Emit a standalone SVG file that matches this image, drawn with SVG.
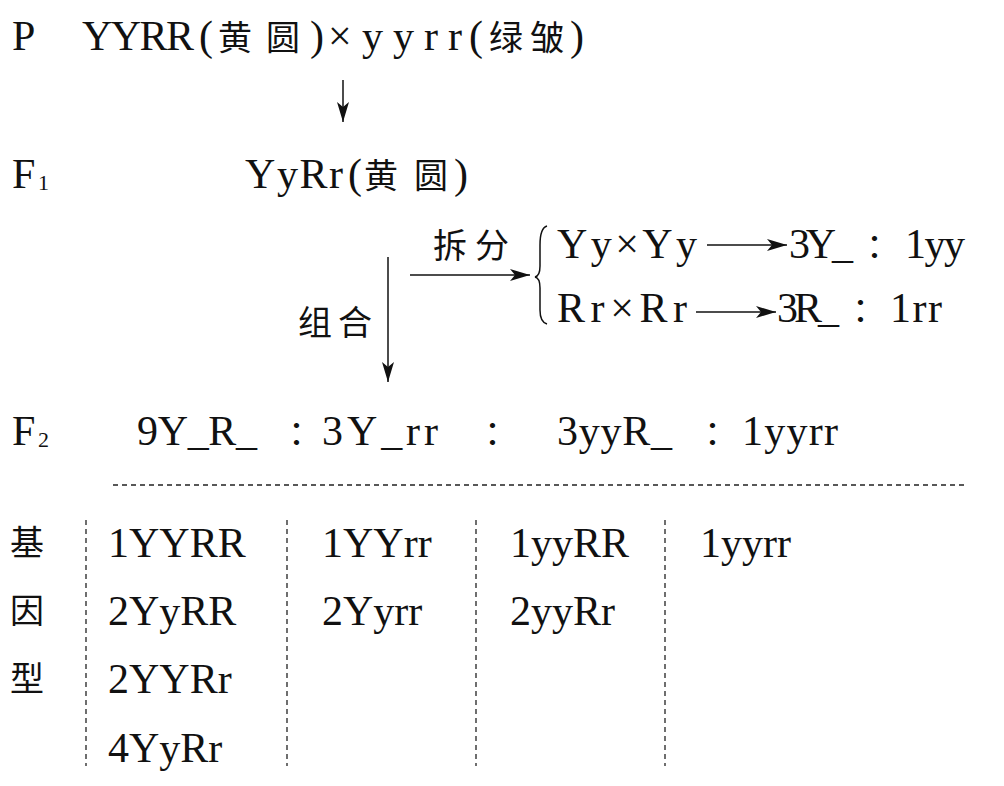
<svg xmlns="http://www.w3.org/2000/svg" width="1004" height="786" viewBox="0 0 1004 786">
<style>
.t{font-size:42px;fill:#111}
.c{font-size:34px;fill:#111}
.s{font-size:22px;fill:#111}
.ln{stroke:#111;stroke-width:1.5;fill:none}
.d{stroke:#222;stroke-width:1.3;stroke-dasharray:5 4;fill:none}
</style>
<defs>
<marker id="ah" viewBox="0 0 20 12" refX="20" refY="6" markerWidth="20" markerHeight="12" markerUnits="userSpaceOnUse" orient="auto">
<path d="M0,0 L20,6 L0,12 L5,6 Z" fill="#111"/>
</marker>
</defs>
<rect width="1004" height="786" fill="#fff"/>

<g font-family="Liberation Serif, Times New Roman, DejaVu Serif, serif">
<g id="row-p">
<text class="t" x="12" y="50">P</text>
<text class="t" x="82" y="50" textLength="112" lengthAdjust="spacing">YYRR</text>
<text class="t" x="199" y="50">(</text>
<text class="t" x="310" y="50">)</text>
<text class="t" x="328" y="50">×</text>
<text class="t" x="362" y="50" textLength="100" lengthAdjust="spacing">yyrr</text>
<text class="t" x="469" y="50">(</text>
<text class="t" x="570" y="50">)</text>
</g>
<g id="row-f1">
<text class="t" x="12" y="188">F</text><text class="s" x="38" y="190">1</text>
<text class="t" x="245" y="188" textLength="98" lengthAdjust="spacing">YyRr</text>
<text class="t" x="348" y="188">(</text>
<text class="t" x="454" y="188">)</text>
</g>
<g id="split-text">
<text class="t" x="557" y="258" textLength="140" lengthAdjust="spacing">Yy×Yy</text>
<text class="t" x="789" y="258" textLength="64" lengthAdjust="spacing">3Y_</text>
<text class="t" x="905" y="258" textLength="60" lengthAdjust="spacing">1yy</text>
<text class="t" x="557" y="322" textLength="130" lengthAdjust="spacing">Rr×Rr</text>
<text class="t" x="777" y="322" textLength="62" lengthAdjust="spacing">3R_</text>
<text class="t" x="890" y="322" textLength="52" lengthAdjust="spacing">1rr</text>
</g>
<g id="row-f2">
<text class="t" x="12" y="445">F</text><text class="s" x="38" y="447">2</text>
<text class="t" x="137" y="445" textLength="120" lengthAdjust="spacing">9Y_R_</text>
<text class="t" x="322" y="445" textLength="116" lengthAdjust="spacing">3Y_rr</text>
<text class="t" x="557" y="445" textLength="115" lengthAdjust="spacing">3yyR_</text>
<text class="t" x="742" y="445" textLength="96" lengthAdjust="spacing">1yyrr</text>
</g>
<g id="table">
<text class="t" x="108" y="557">1YYRR</text>
<text class="t" x="108" y="625">2YyRR</text>
<text class="t" x="108" y="693">2YYRr</text>
<text class="t" x="108" y="762">4YyRr</text>
<text class="t" x="322" y="557">1YYrr</text>
<text class="t" x="322" y="625">2Yyrr</text>
<text class="t" x="510" y="557">1yyRR</text>
<text class="t" x="510" y="625">2yyRr</text>
<text class="t" x="700" y="557">1yyrr</text>
</g>
</g>

<g font-family="Noto Sans CJK SC, Noto Sans CJK JP, sans-serif">
<g id="cjk-p">
<text class="c" x="218" y="50">黄</text>
<text class="c" x="266" y="50">圆</text>
<text class="c" x="489" y="50">绿</text>
<text class="c" x="530" y="50">皱</text>
</g>
<g id="cjk-f1">
<text class="c" x="364" y="188">黄</text>
<text class="c" x="414" y="188">圆</text>
</g>
<g id="labels">
<text class="c" x="433" y="258">拆</text>
<text class="c" x="475" y="258">分</text>
<text class="c" x="298" y="335">组</text>
<text class="c" x="338" y="335">合</text>
</g>
<g id="colons">
<text class="c" x="866" y="258">：</text>
<text class="c" x="852" y="322">：</text>
<text class="c" x="288" y="445">：</text>
<text class="c" x="484" y="445">：</text>
<text class="c" x="704" y="445">：</text>
</g>
<g id="side-label">
<text class="c" x="10" y="555">基</text>
<text class="c" x="10" y="623">因</text>
<text class="c" x="10" y="691">型</text>
</g>
</g>

<g id="connectors">
<path class="ln" d="M547,226 Q540,228 540,245 L540,266 Q540,276 535,277 Q540,278 540,288 L540,310 Q540,322 547,324" stroke-width="1.3"/>
<line class="ln" x1="343" y1="80" x2="343" y2="122" marker-end="url(#ah)"/>
<line class="ln" x1="410" y1="275" x2="530" y2="275" marker-end="url(#ah)"/>
<line class="ln" x1="388" y1="257" x2="388" y2="382" marker-end="url(#ah)"/>
<line class="ln" x1="707" y1="245" x2="787" y2="245" marker-end="url(#ah)"/>
<line class="ln" x1="696" y1="312" x2="776" y2="312" marker-end="url(#ah)"/>
<line class="d" x1="113" y1="485" x2="965" y2="485"/>
<line class="d" x1="86" y1="520" x2="86" y2="766"/>
<line class="d" x1="287" y1="520" x2="287" y2="766"/>
<line class="d" x1="476" y1="520" x2="476" y2="766"/>
<line class="d" x1="665" y1="520" x2="665" y2="766"/>
</g>
</svg>
